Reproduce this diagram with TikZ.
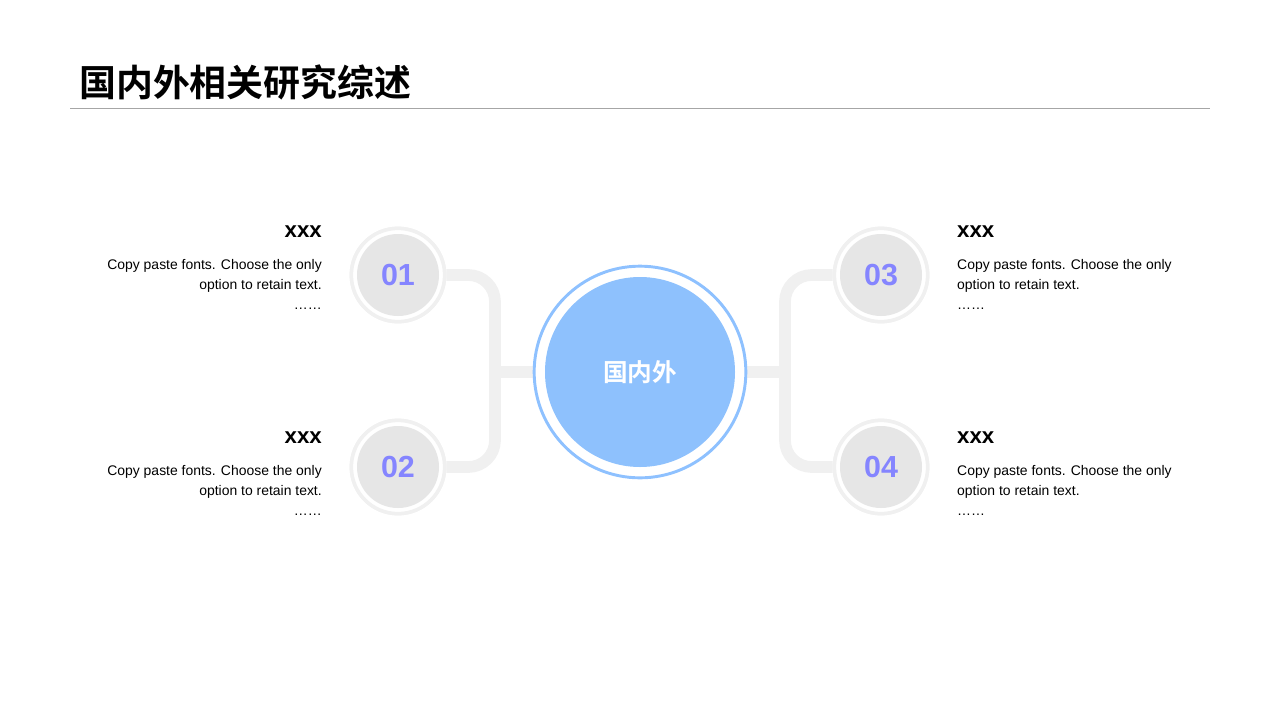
\documentclass[tikz,border=0pt]{standalone}
\usepackage{fontspec}
\setmainfont{Liberation Sans}
\newfontfamily\cjk{Noto Sans CJK SC}[BoldFont={* Bold}]
\definecolor{ringblue}{HTML}{8EC1FF}
\definecolor{fillblue}{HTML}{8EC1FD}
\definecolor{numblue}{HTML}{8585FF}
\definecolor{ringgray}{HTML}{F0F0F0}
\definecolor{fillgray}{HTML}{E6E6E6}
\definecolor{rulegray}{HTML}{A6A6A6}
\tikzset{
  link/.style={draw=ringgray,line width=10pt,rounded corners=0.8cm},
  outer/.style={circle,fill=white,draw=ringgray,line width=3pt,minimum size=2.8cm,inner sep=0pt},
  num/.style={circle,fill=fillgray,minimum size=2.46cm,inner sep=0pt,text=numblue,font=\fontsize{26}{26}\selectfont\bfseries},
  head/.style={font=\fontsize{19}{19}\selectfont\bfseries,inner sep=0pt},
  body/.style={font=\fontsize{11.9}{17.3}\selectfont,align=#1,inner sep=0pt},
}
\begin{document}
\begin{tikzpicture}[x=0.03cm,y=-0.03cm]
\useasboundingbox (0,0) rectangle (1280,720);
% title
\node[anchor=west,inner sep=0pt,font=\cjk\bfseries\fontsize{31.5}{32}\selectfont] (title) at (79,82) {国内外相关研究综述};
\draw[rulegray,line width=0.8pt] (70,108) -- (1210,108);
% junctions
\coordinate (bl) at (495,372);
\coordinate (br) at (785,372);
\node[outer] (o1) at (398,275) {};
\node[outer] (o2) at (398,467) {};
\node[outer] (o3) at (881,275) {};
\node[outer] (o4) at (881,467) {};
\node[circle,minimum size=6.4cm,inner sep=0pt] (hub) at (640,372) {};
% links
\begin{scope}[on background layer/.style={}]
\draw[link] (o1.east) -| (bl) |- (o2.east);
\draw[link] (o3.west) -| (br) |- (o4.west);
\draw[link] (bl) -- (hub.west);
\draw[link] (br) -- (hub.east);
\end{scope}
% circles on top
\foreach \n/\p in {1/{398,275},2/{398,467},3/{881,275},4/{881,467}}{
  \node[outer] at (\p) {};
  \node[num] (n\n) at (\p) {0\n};
}
\node[circle,fill=white,draw=ringblue,line width=2.5pt,minimum size=6.35cm] (ring) at (hub) {};
\node[circle,fill=fillblue,minimum size=5.7cm,inner sep=0pt,text=white,font=\cjk\bfseries\fontsize{21}{21}\selectfont] (core) at (hub) {国内外};
% left texts
\node[head,anchor=base east] (h1) at (322,237) {xxx};
\node[body=right,anchor=north east] (t1) at (322,259) {Copy paste fonts. Choose the only\\option to retain text.\\……};
\node[head,anchor=base east] (h2) at (322,443) {xxx};
\node[body=right,anchor=north east] (t2) at (322,465) {Copy paste fonts. Choose the only\\option to retain text.\\……};
% right texts
\node[head,anchor=base west] (h3) at (957,237) {xxx};
\node[body=left,anchor=north west] (t3) at (957,259) {Copy paste fonts. Choose the only\\option to retain text.\\……};
\node[head,anchor=base west] (h4) at (957,443) {xxx};
\node[body=left,anchor=north west] (t4) at (957,465) {Copy paste fonts. Choose the only\\option to retain text.\\……};
\end{tikzpicture}
\end{document}
